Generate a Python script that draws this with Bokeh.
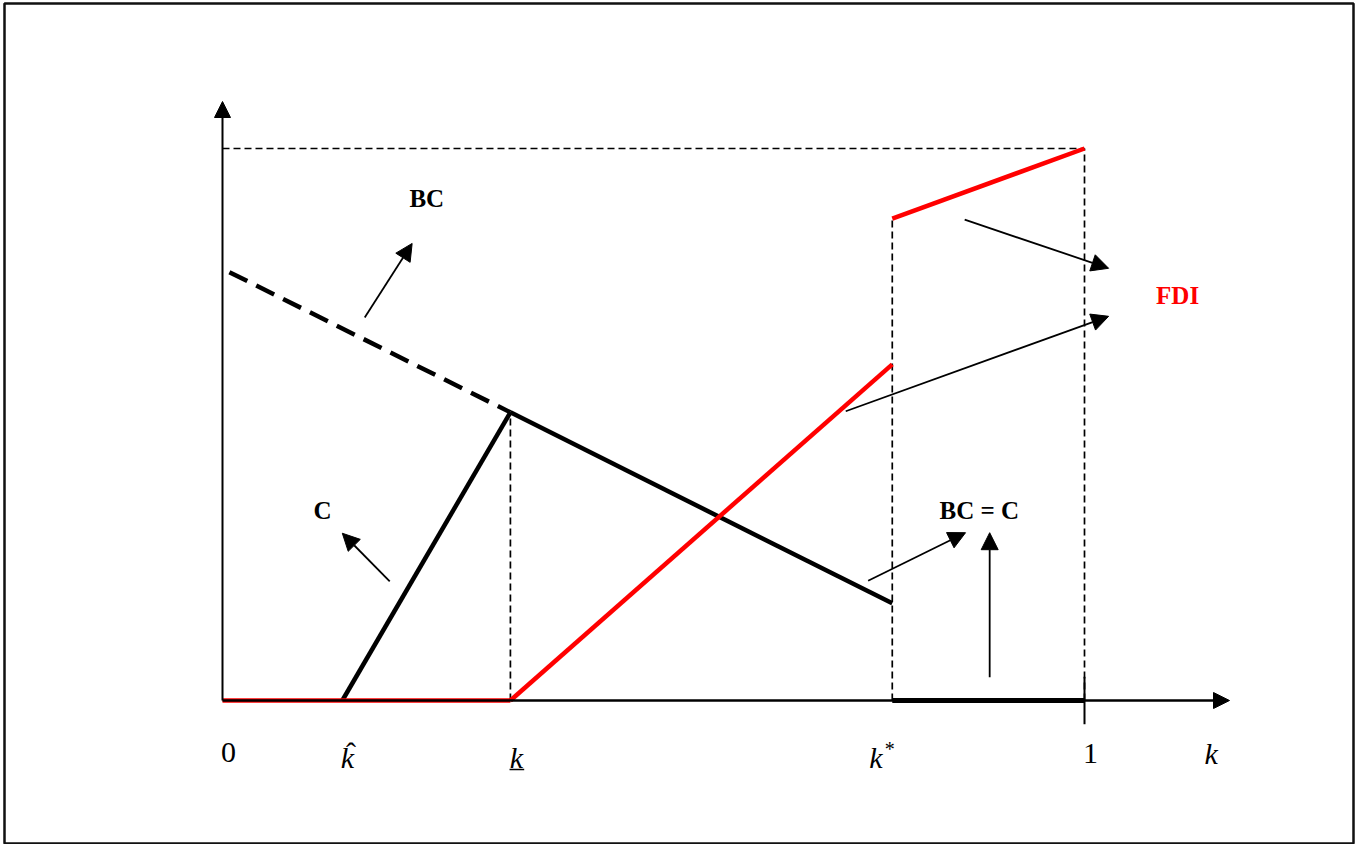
from bokeh.plotting import figure
from bokeh.models import Range1d, Arrow, NormalHead
from bokeh.core.properties import value
from bokeh.embed import file_html
from bokeh.resources import INLINE

# ---- model values (k on [0,1], payoff scaled so top level = 1) ----
k_hat, k_low, k_star, k_one = 0.139, 0.334, 0.777, 1.0
top_level = 1.0

bc_dash_k = [0.008, 0.334]
bc_dash_v = [0.776, 0.522]
bc_solid_k = [0.334, 0.777]
bc_solid_v = [0.522, 0.176]

c_k = [0.139, 0.334]
c_v = [0.0, 0.522]

fdi_zero_k = [0.0, 0.334]
fdi_zero_v = [0.0, 0.0]
fdi_low_k = [0.334, 0.777]
fdi_low_v = [0.0, 0.609]
fdi_high_k = [0.777, 1.0]
fdi_high_v = [0.873, 1.0]

tick_labels = ["0", "k", "k", "k", "1", "k"]
tick_pos = [0.007, 0.145, 0.341, 0.758, 1.007, 1.147]

curve_labels = ["BC", "C", "BC = C"]
curve_label_x = [0.237, 0.116, 0.878]
curve_label_y = [0.909, 0.344, 0.344]
fdi_label = ["FDI"]
fdi_label_x = [1.108]
fdi_label_y = [0.734]

# annotation arrows: (x0, y0, x1, y1)
arrows = [
    (0.165, 0.694, 0.220, 0.828),   # BC
    (0.194, 0.216, 0.139, 0.303),   # C
    (0.861, 0.871, 1.028, 0.783),   # FDI upper
    (0.723, 0.524, 1.028, 0.696),   # FDI lower
    (0.749, 0.217, 0.862, 0.304),   # BC = C
    (0.890, 0.042, 0.890, 0.304),   # vertical
]

p = figure(width=1360, height=844,
           x_range=Range1d((4 - 222) / 862, (1353 - 222) / 862),
           y_range=Range1d((700 - 843) / 552, (700 - 3) / 552),
           x_axis_type=None, y_axis_type=None,
           output_backend="svg", toolbar_location=None,
           min_border_left=4, min_border_top=3, min_border_right=7, min_border_bottom=1)
p.grid.visible = False
p.outline_line_color = "#111111"
p.outline_line_width = 2.5
p.background_fill_color = "white"
p.border_fill_color = "white"

RED = "#ff0000"
FONT = value("Liberation Serif")

# guide dashed lines
p.line([0, k_one], [top_level, top_level], line_color="black", line_width=1.7, line_dash="7 4")
p.line([k_low, k_low], [0, bc_solid_v[0]], line_color="black", line_width=1.7, line_dash="7 4")
p.line([k_star, k_star], [0, fdi_high_v[0]], line_color="black", line_width=1.7, line_dash="7 4")
p.line([k_one, k_one], [0, top_level], line_color="black", line_width=1.7, line_dash="7 4")

# axes
head = dict(fill_color="black", line_color="black", size=16)
p.add_layout(Arrow(end=NormalHead(**head), x_start=0, y_start=0, x_end=0, y_end=(700 - 101) / 552,
                   line_width=2, line_color="black"))
p.add_layout(Arrow(end=NormalHead(**head), x_start=0, y_start=0, x_end=(1229 - 222) / 862, y_end=0,
                   line_width=2.5, line_color="black"))
p.line([k_one, k_one], [-0.043, 0.043], line_color="black", line_width=2)
p.line([k_star, k_one], [0, 0], line_color="black", line_width=5)

# curves
p.line(bc_dash_k, bc_dash_v, line_color="black", line_width=4.5, line_dash="20 10")
p.line(bc_solid_k, bc_solid_v, line_color="black", line_width=4.5)
p.line(c_k, c_v, line_color="black", line_width=4.5)
p.line(fdi_zero_k, fdi_zero_v, line_color=RED, line_width=4.5)
p.line(fdi_low_k, fdi_low_v, line_color=RED, line_width=4.5)
p.line(fdi_high_k, fdi_high_v, line_color=RED, line_width=4.5)

# annotation arrows
for (x0, y0, x1, y1) in arrows:
    p.add_layout(Arrow(end=NormalHead(fill_color="black", line_color="black", size=17),
                       x_start=x0, y_start=y0, x_end=x1, y_end=y1,
                       line_width=1.8, line_color="black"))

# labels
p.text(curve_label_x, curve_label_y, text=curve_labels, text_font=FONT, text_font_size="25px",
       text_font_style="bold", text_color="black", text_align="center", text_baseline="middle")
p.text(fdi_label_x, fdi_label_y, text=fdi_label, text_font=FONT, text_font_size="25px",
       text_font_style="bold", text_color=RED, text_align="center", text_baseline="middle")

# tick labels
ty = -0.100
p.text([tick_pos[0], tick_pos[4]], [ty + 0.006, ty + 0.004], text=[tick_labels[0], tick_labels[4]],
       text_font=FONT, text_font_size="30px", text_color="black", text_align="center", text_baseline="middle")
p.text([tick_pos[1], tick_pos[2], tick_pos[3], tick_pos[5]], [ty - 0.004, ty - 0.004, ty - 0.004, ty + 0.004],
       text=[tick_labels[1], tick_labels[2], tick_labels[3], tick_labels[5]],
       text_font=FONT, text_font_size="30px", text_font_style="italic",
       text_color="black", text_align="center", text_baseline="middle")
# hat over k_hat, asterisk on k_star, underline under k_low
p.text([tick_pos[1] + 0.004], [ty + 0.006], text=["ˆ"], text_font=FONT, text_font_size="30px",
       text_color="black", text_align="center", text_baseline="middle")
p.text([tick_pos[3] + 0.016], [ty + 0.012], text=["*"], text_font=FONT, text_font_size="20px",
       text_color="black", text_align="center", text_baseline="middle")
p.line([tick_pos[2] - 0.008, tick_pos[2] + 0.009], [ty - 0.025, ty - 0.025], line_color="black", line_width=1.5)

open("out.html", "w").write(file_html(p, INLINE))
